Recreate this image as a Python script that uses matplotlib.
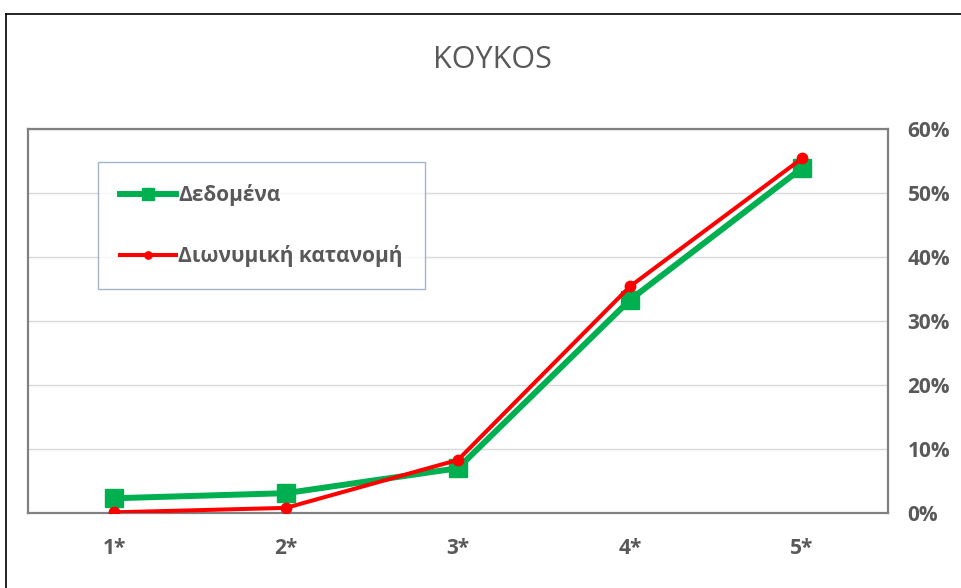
import matplotlib
matplotlib.use("Agg")
import matplotlib.pyplot as plt
from matplotlib.lines import Line2D
from matplotlib.ticker import PercentFormatter

# ── Data ──────────────────────────────────────────────────
categories = ["1*", "2*", "3*", "4*", "5*"]
observed = [2.3, 3.1, 7.0, 33.3, 53.9]       # Δεδομένα (%)
binomial = [0.1, 0.8, 8.3, 35.4, 55.4]       # Διωνυμική κατανομή (%)
y_ticks = [0, 10, 20, 30, 40, 50, 60]

TEXT = "#595959"
GREEN = "#00B050"
RED = "#FF0000"

plt.rcParams["font.family"] = ["Open Sans", "DejaVu Sans"]

W, H = 962, 588
fig = plt.figure(figsize=(W / 100, H / 100), dpi=100)

# outer chart border (left + top edges visible)
fig.add_artist(Line2D([6 / W, 6 / W], [0, 1 - 14 / H], transform=fig.transFigure,
                      color="black", lw=1.2))
fig.add_artist(Line2D([6 / W, 1], [1 - 14 / H, 1 - 14 / H], transform=fig.transFigure,
                      color="black", lw=1.2))

# plot area
left, right, top, bottom = 28, 888, 129, 513
ax = fig.add_axes([left / W, 1 - bottom / H, (right - left) / W, (bottom - top) / H])

x = list(range(len(categories)))
ax.plot(x, observed, color=GREEN, lw=4.3, marker="s", ms=13, label="Δεδομένα", zorder=3)
ax.plot(x, binomial, color=RED, lw=2.9, marker="o", ms=7.5, label="Διωνυμική κατανομή", zorder=4)

ax.set_xlim(-0.5, len(categories) - 0.5)
ax.set_ylim(0, 60)
ax.set_yticks(y_ticks)
ax.yaxis.set_major_formatter(PercentFormatter(decimals=0))
ax.yaxis.tick_right()
ax.set_xticks(x)
ax.set_xticklabels(categories)
ax.tick_params(axis="y", length=0, pad=14, labelsize=15, labelcolor=TEXT)
ax.tick_params(axis="x", length=0, pad=18, labelsize=15, labelcolor=TEXT)
for lbl in ax.get_xticklabels() + ax.get_yticklabels():
    lbl.set_fontweight("bold")

ax.grid(axis="y", color="#D9D9D9", lw=1)
ax.set_axisbelow(True)
for sp in ax.spines.values():
    sp.set_color("#808080")
    sp.set_linewidth(1.6)

leg = ax.legend(loc="upper left", bbox_to_anchor=((98 - left) / (right - left), 1 - (162 - top) / (bottom - top)),
                frameon=True, fancybox=False, edgecolor="#8EA0C0", borderpad=1.05,
                handlelength=2.7, handletextpad=0.1, labelspacing=1.9, markerscale=0.7,
                prop={"size": 15, "weight": "bold"}, borderaxespad=0)
leg.get_frame().set_linewidth(1.0)
for t in leg.get_texts():
    t.set_color(TEXT)

fig.text(492 / W, 1 - 60 / H, "KOYKOS", ha="center", va="center", fontsize=22, color=TEXT)

fig.savefig("out.png", dpi=100)
